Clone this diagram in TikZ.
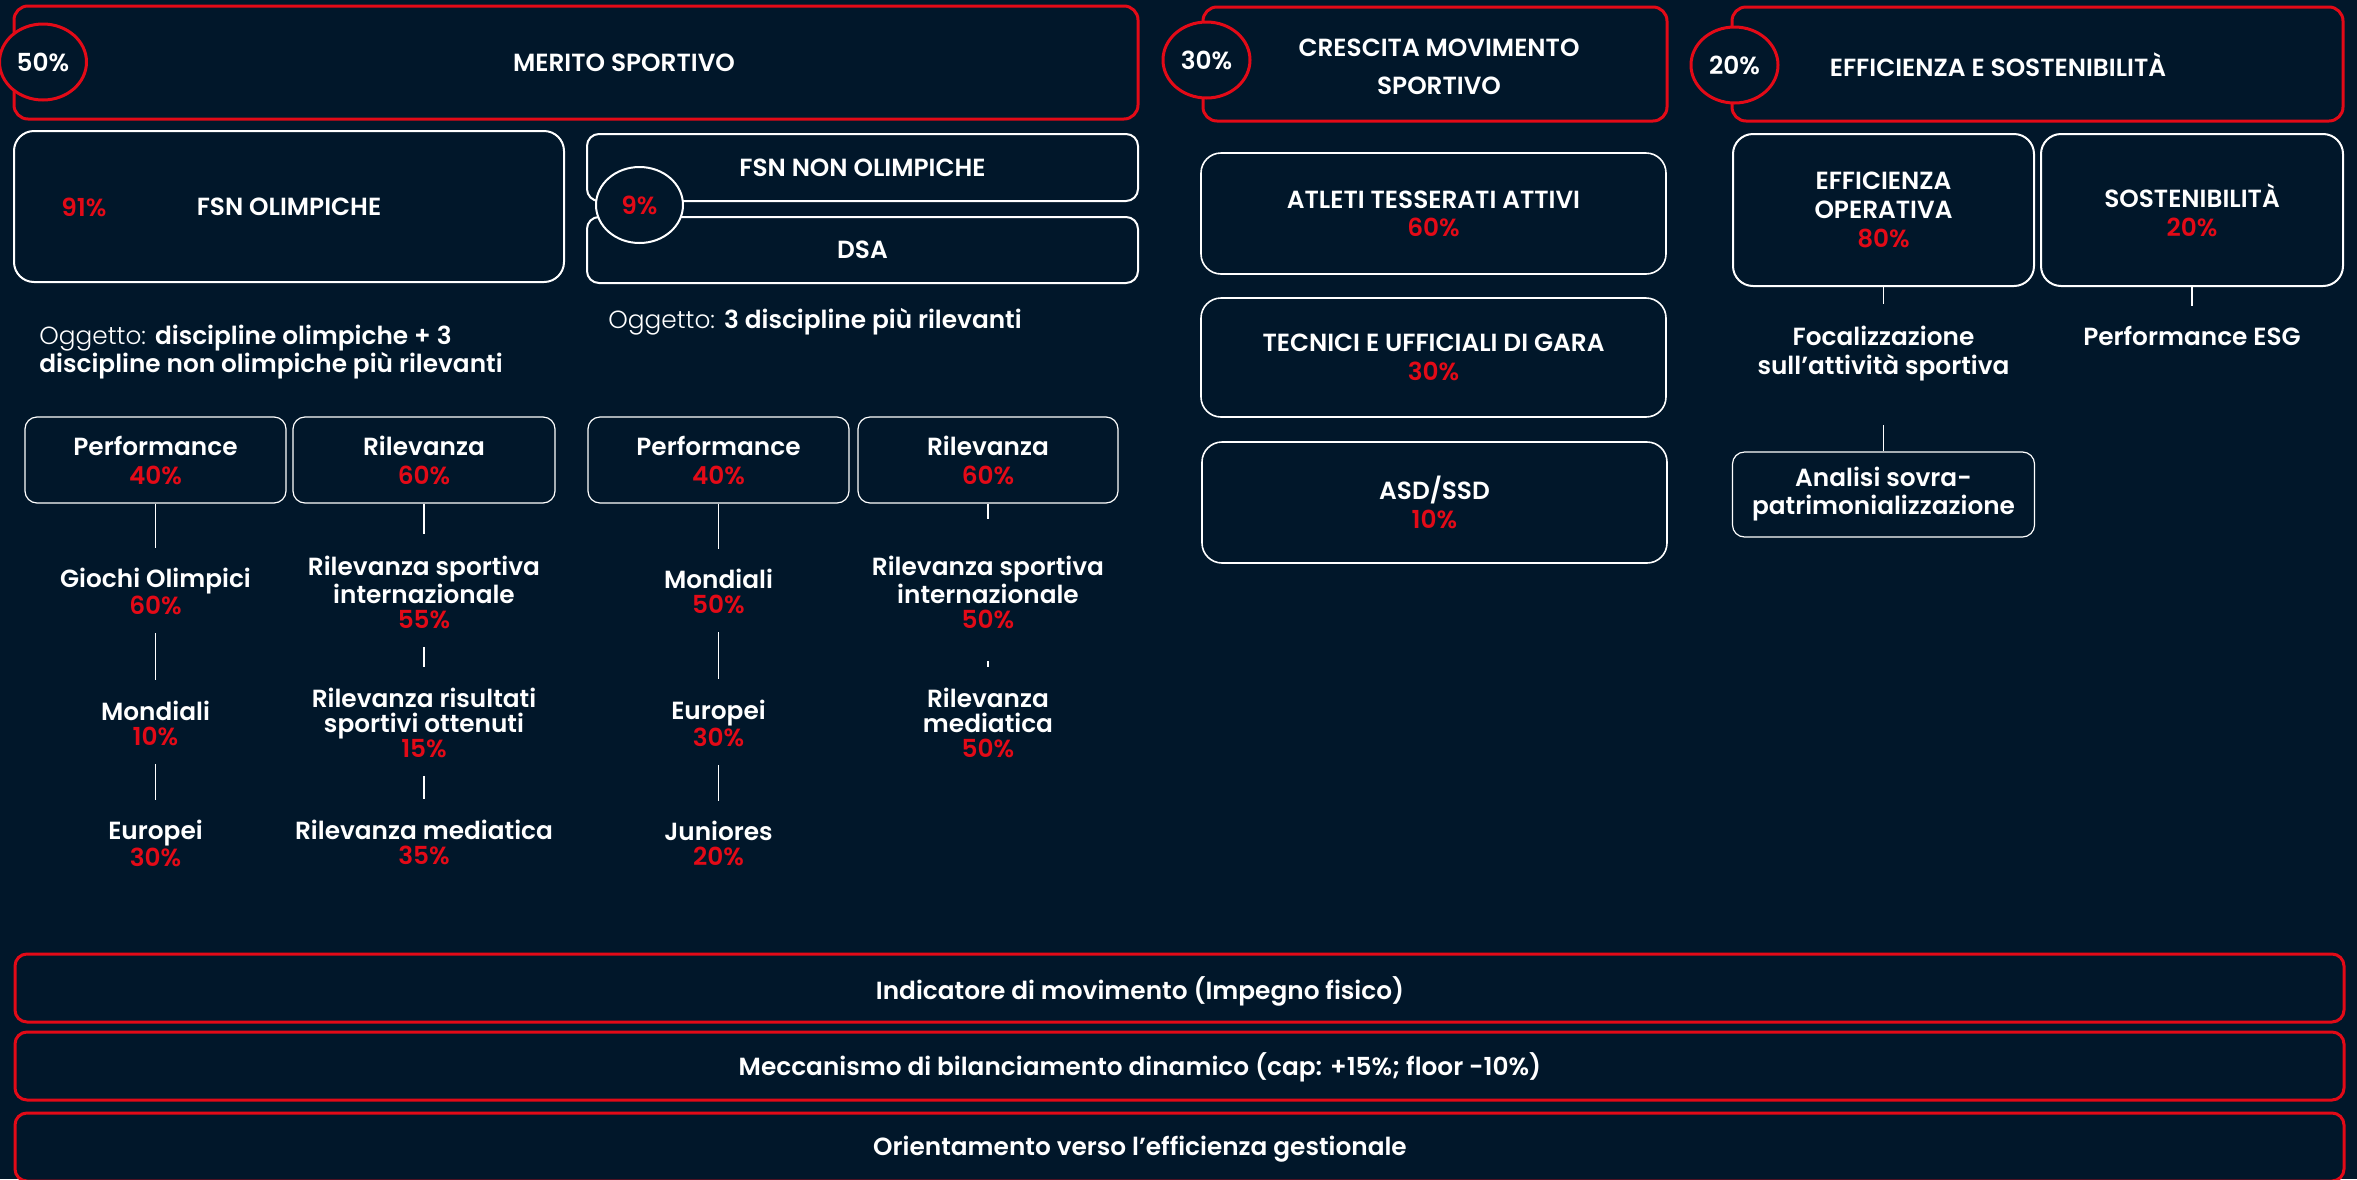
\documentclass[tikz,border=0pt]{standalone}
\usepackage{fontspec}
\setmainfont{Poppins}[UprightFont=* Light, BoldFont=* SemiBold]
\usetikzlibrary{shapes.geometric}
\definecolor{navy}{HTML}{01172A}
\definecolor{ored}{HTML}{E30A17}
\newcommand{\pc}[1]{\textcolor{ored}{#1}}
\newcommand{\fs}[1]{\fontsize{12.4}{#1}\selectfont\bfseries}
\tikzset{
    every node/.style={font=\fs{12.5}, text=white, inner sep=0pt, align=center},
    redbox/.style={draw=ored, line width=1.5pt, rounded corners=7pt, fill=navy},
    whitebox/.style={draw=white, line width=1pt, rounded corners=10pt},
    smallbox/.style={draw=white, line width=0.6pt, rounded corners=6pt, font=\fs{14.5}},
    pct/.style={ellipse, draw=ored, line width=1.5pt, fill=navy, minimum width=43.5pt, minimum height=38pt},
    conn/.style={draw=white, line width=0.6pt},
    gap/.style={shorten <=9pt, shorten >=10pt}
}

\begin{document}
\begin{tikzpicture}[x=0.5pt, y=-0.5pt]
    \fill[navy] (0,0) rectangle (2357,1179);
    \useasboundingbox (0,0) rectangle (2357,1179);

    % headline boxes
    \node (merito) [redbox, minimum width=562pt, minimum height=56.5pt] at (576,62.5) {};
    \node (meritoT) at (624,63) {MERITO SPORTIVO};
    \node (p50) [pct] at (43,62) {50\%};

    \node (cresc) [redbox, minimum width=232pt, minimum height=57pt, font=\fs{19}] at (1435,64) {};
    \node (crescT) [font=\fs{19}] at (1439,67) {CRESCITA MOVIMENTO\\SPORTIVO};
    \node (p30) [pct] at (1206.5,60) {30\%};

    \node (effs) [redbox, minimum width=305.5pt, minimum height=57pt] at (2037.5,64) {};
    \node (effsT) at (1998,65) {EFFICIENZA E SOSTENIBILITÀ};
    \node (p20) [pct] at (1734.5,65) {20\%};

    % merito sportivo
    \node (fsnol) [whitebox, minimum width=275pt, minimum height=75.5pt] at (289,206.5) {FSN OLIMPICHE};
    \node (p91) at (84,207) {\pc{91\%}};
    \node (fsnnon) [whitebox, rounded corners=6pt, minimum width=275.5pt, minimum height=33.5pt] at (862.5,167.5) {FSN NON OLIMPICHE};
    \node (dsa) [whitebox, rounded corners=6pt, minimum width=275.5pt, minimum height=33pt] at (862.5,250) {DSA};
    \node (p9) [pct, draw=white, line width=1pt] at (639.5,205) {\pc{9\%}};

    \node (ogg1) [anchor=west, align=left, font=\fontsize{12.4}{14}\selectfont] at (39,352)
        {Oggetto: \textbf{discipline olimpiche + 3}\\\textbf{discipline non olimpiche più rilevanti}};
    \node (ogg2) [anchor=west, font=\fontsize{12.4}{14}\selectfont] at (608,322)
        {Oggetto: \textbf{3 discipline più rilevanti}};

    \node (perfA) [smallbox, minimum width=130.5pt, minimum height=43pt] at (155.5,460) {Performance\\\pc{40\%}};
    \node (rilA) [smallbox, minimum width=131pt, minimum height=43pt] at (424,460) {Rilevanza\\\pc{60\%}};
    \node (perfB) [smallbox, minimum width=130.5pt, minimum height=43pt] at (718.5,460) {Performance\\\pc{40\%}};
    \node (rilB) [smallbox, minimum width=130pt, minimum height=43pt] at (988,460) {Rilevanza\\\pc{60\%}};

    \node (goA) at (155.5,591.5) {Giochi Olimpici\\\pc{60\%}};
    \node (moA) at (155.5,723) {Mondiali\\\pc{10\%}};
    \node (euA) at (155.5,843.5) {Europei\\\pc{30\%}};
    \node (rsiA) at (424,592) {Rilevanza sportiva\\internazionale\\\pc{55\%}};
    \node (rrA) at (424,722.5) {Rilevanza risultati\\sportivi ottenuti\\\pc{15\%}};
    \node (rmA) at (424,842) {Rilevanza mediatica\\\pc{35\%}};
    \node (moB) at (718.5,591.5) {Mondiali\\\pc{50\%}};
    \node (euB) at (718.5,723) {Europei\\\pc{30\%}};
    \node (juB) at (718.5,843.5) {Juniores\\\pc{20\%}};
    \node (rsiB) at (988,592) {Rilevanza sportiva\\internazionale\\\pc{50\%}};
    \node (rmB) at (988,722.5) {Rilevanza\\mediatica\\\pc{50\%}};

    \draw[conn, shorten >=10pt] (perfA.south) -- (goA.north);
    \draw[conn, gap] (goA.south) -- (moA.north);
    \draw[conn, gap] (moA.south) -- (euA.north);
    \draw[conn, shorten >=10.5pt] (rilA.south) -- (rsiA.north);
    \draw[conn, gap] (rsiA.south) -- (rrA.north);
    \draw[conn, gap] (rrA.south) -- (rmA.north);
    \draw[conn, shorten >=10pt] (perfB.south) -- (moB.north);
    \draw[conn, gap] (moB.south) -- (euB.north);
    \draw[conn, gap] (euB.south) -- (juB.north);
    \draw[conn, shorten >=18pt] (rilB.south) -- (rsiB.north);
    \draw[conn, shorten <=16pt, shorten >=10pt] (rsiB.south) -- (rmB.north);

    % crescita movimento sportivo
    \node (atleti) [whitebox, line width=0.8pt, minimum width=232.5pt, minimum height=60.5pt, font=\fs{14}] at (1433.5,213.5) {ATLETI TESSERATI ATTIVI\\\pc{60\%}};
    \node (tecnici) [whitebox, line width=0.8pt, minimum width=232.5pt, minimum height=59.5pt, font=\fs{14.5}] at (1433.5,357.5) {TECNICI E UFFICIALI DI GARA\\\pc{30\%}};
    \node (asd) [whitebox, line width=0.8pt, minimum width=232.5pt, minimum height=60.5pt, font=\fs{14.5}] at (1434.5,502.5) {ASD/SSD\\\pc{10\%}};

    % efficienza e sostenibilita
    \node (effop) [whitebox, minimum width=150.5pt, minimum height=76pt, font=\fs{14.5}] at (1883.5,210) {EFFICIENZA\\OPERATIVA\\\pc{80\%}};
    \node (sost) [whitebox, minimum width=151pt, minimum height=76pt, font=\fs{14.5}] at (2192,210) {SOSTENIBILITÀ\\\pc{20\%}};
    \node (focal) [font=\fs{14.5}] at (1883.5,353.5) {Focalizzazione\\sull’attività sportiva};
    \node (pesg) at (2192,336) {Performance ESG};
    \node (analisi) [smallbox, minimum width=151pt, minimum height=42.5pt, font=\fs{14}] at (1883.5,494.5) {Analisi sovra-\\patrimonializzazione};

    \draw[conn, shorten >=11pt] (effop.south) -- (focal.north);
    \draw[conn, shorten >=10pt] (sost.south) -- (pesg.north);
    \draw[conn, shorten <=22pt] (focal.south) -- (analisi.north);

    % bottom bars
    \node (barA) [redbox, rounded corners=6pt, minimum width=1164.5pt, minimum height=34pt] at (1179.5,988) {};
    \node (barB) [redbox, rounded corners=6pt, minimum width=1164.5pt, minimum height=34pt] at (1179.5,1066) {};
    \node (barC) [redbox, rounded corners=6pt, minimum width=1164.5pt, minimum height=34pt] at (1179.5,1147) {};
    \node (indT) at (1140,991) {Indicatore di movimento (Impegno fisico)};
    \node (mecT) at (1140,1067) {Meccanismo di bilanciamento dinamico (cap: +15\%; floor -10\%)};
    \node (oriT) at (1140,1149) {Orientamento verso l’efficienza gestionale};
\end{tikzpicture}
\end{document}
